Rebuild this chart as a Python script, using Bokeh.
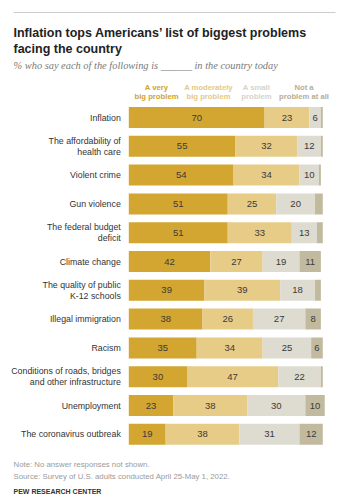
from bokeh.plotting import figure
from bokeh.models import Range1d, Label, ColumnDataSource
from bokeh.embed import file_html
from bokeh.resources import INLINE
from bokeh.core.properties import value

# ---- data ----
categories = [
    "Inflation",
    "The affordability of\nhealth care",
    "Violent crime",
    "Gun violence",
    "The federal budget\ndeficit",
    "Climate change",
    "The quality of public\nK-12 schools",
    "Illegal immigration",
    "Racism",
    "Conditions of roads, bridges\nand other infrastructure",
    "Unemployment",
    "The coronavirus outbreak",
]
very_big = [70, 55, 54, 51, 51, 42, 39, 38, 35, 30, 23, 19]
moderately_big = [23, 32, 34, 25, 33, 27, 39, 26, 34, 47, 38, 38]
small = [6, 12, 10, 20, 13, 19, 18, 27, 25, 22, 30, 31]
not_at_all = [1, 1, 1, 4, 3, 11, 3, 8, 6, 1, 10, 12]
series_names = [["A very", "big problem"], ["A moderately", "big problem"],
                ["A small", "problem"], ["Not a", "problem at all"]]

title_lines = ["Inflation tops Americans\u2019 list of biggest problems", "facing the country"]
subtitle = "% who say each of the following is ______ in the country today"
note = "Note: No answer responses not shown."
source = "Source: Survey of U.S. adults conducted April 25-May 1, 2022."
credit = "PEW RESEARCH CENTER"

bar_colors = ["#d2a630", "#e7cc87", "#dedbd1", "#c2ba9f"]
head_colors = ["#cfa331", "#e3c987", "#d6d3c9", "#b5ae98"]

W, H = 360, 500
PX = 1.94          # pixels per percent
X0 = 128.3         # x of 0%
ROW0 = 117.0       # y of first row centre
ROWH = 28.8        # row pitch

p = figure(width=W, height=H, output_backend="svg", toolbar_location=None,
           x_range=Range1d(-X0 / PX, (W - X0) / PX),
           y_range=Range1d((H - ROW0) / ROWH, -ROW0 / ROWH),
           min_border=0)
p.axis.visible = False
p.grid.visible = False
p.outline_line_color = None
p.background_fill_color = "white"
p.border_fill_color = "white"

rows = list(range(len(categories)))
series = [very_big, moderately_big, small, not_at_all]
left = [0] * len(rows)
lab_x, lab_y, lab_t = [], [], []
for vals, col in zip(series, bar_colors):
    right = [l + v for l, v in zip(left, vals)]
    src = ColumnDataSource(dict(y=rows, left=left, right=right))
    p.hbar(y="y", left="left", right="right", height=0.73, source=src,
           fill_color=col, line_color=None)
    for r, l, v in zip(rows, left, vals):
        if v >= 5:
            lab_x.append(l + v / 2)
            lab_y.append(r)
            lab_t.append(str(v))
    left = right

p.text(x=lab_x, y=lab_y, text=lab_t, text_align="center", text_baseline="middle",
       text_font=value("Liberation Sans"), text_font_size="9.5px", text_color="#3a3a3a")

p.text(x=[0] * len(rows), y=rows, text=categories, x_offset=-8,
       text_align="right", text_baseline="middle", text_line_height=1.1,
       text_font=value("Liberation Sans"), text_font_size="8.8px", text_color="#333333")


def lab(text, ix, iy, size, color, style="normal", font="Liberation Sans", align="left"):
    p.add_layout(Label(x=ix, y=H - iy, x_units="screen", y_units="screen",
                       text=text, text_font=font, text_font_size=size,
                       text_color=color, text_font_style=style, text_align=align,
                       text_baseline="alphabetic"))


# top rule
p.segment(x0=[(13 - X0) / PX], x1=[(335 - X0) / PX],
          y0=[(12 - ROW0) / ROWH], y1=[(12 - ROW0) / ROWH],
          line_color="#cccccc", line_width=1)

lab(title_lines[0], 13, 32.5, "12.5px", "#222222", "bold")
lab(title_lines[1], 13, 48.5, "12.5px", "#222222", "bold")
lab(subtitle, 13, 64.5, "10.4px", "#7a7a7a", "italic", "Liberation Serif")

head_x = [156, 208, 256, 303.5]
for names, hx, hc in zip(series_names, head_x, head_colors):
    lab(names[0], hx, 87, "7.7px", hc, "bold", align="center")
    lab(names[1], hx, 96, "7.7px", hc, "bold", align="center")

lab(note, 13, 464, "7.8px", "#9a9a9a")
lab(source, 13, 475.5, "7.8px", "#9a9a9a")
lab(credit, 13, 491, "7px", "#333333", "bold")

open("out.html", "w").write(file_html(p, INLINE))
